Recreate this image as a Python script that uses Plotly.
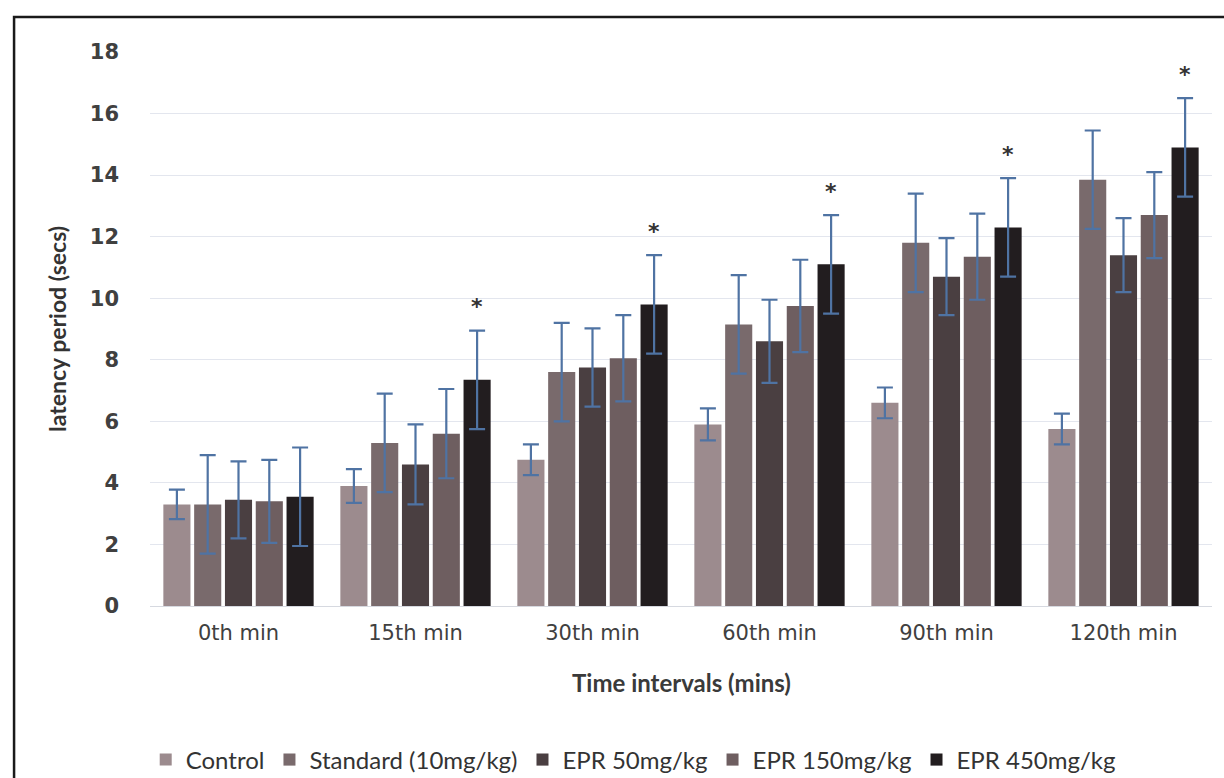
import plotly.graph_objects as go

categories = ["0th min", "15th min", "30th min", "60th min", "90th min", "120th min"]
series_names = ["Control", "Standard (10mg/kg)", "EPR 50mg/kg", "EPR 150mg/kg", "EPR 450mg/kg"]

control = [3.3, 3.9, 4.75, 5.9, 6.6, 5.75]
standard = [3.3, 5.3, 7.6, 9.15, 11.8, 13.85]
epr50 = [3.45, 4.6, 7.75, 8.6, 10.7, 11.4]
epr150 = [3.4, 5.6, 8.05, 9.75, 11.35, 12.7]
epr450 = [3.55, 7.35, 9.8, 11.1, 12.3, 14.9]

err_control = [0.48, 0.55, 0.5, 0.52, 0.5, 0.5]
err_standard = [1.6, 1.6, 1.6, 1.6, 1.6, 1.6]
err_epr50 = [1.25, 1.3, 1.27, 1.35, 1.25, 1.2]
err_epr150 = [1.35, 1.45, 1.4, 1.5, 1.4, 1.4]
err_epr450 = [1.6, 1.6, 1.6, 1.6, 1.6, 1.6]

significant_450 = [False, True, True, True, True, True]

colors = ["#9c8b8e", "#796a6c", "#4a3f41", "#6e5e60", "#221d1f"]
values = [control, standard, epr50, epr150, epr450]
errors = [err_control, err_standard, err_epr50, err_epr150, err_epr450]

fig = go.Figure()
for name, vals, errs, col in zip(series_names, values, errors, colors):
    fig.add_trace(go.Bar(
        name=name, x=categories, y=vals, marker_color=col,
        marker_line_width=0,
        error_y=dict(type="data", array=errs, visible=True,
                     color="#4f73a3", thickness=2.2, width=8),
    ))

bargap = 0.13
ngroups = len(series_names)
slot = (1 - bargap) / ngroups
offset_last = -(1 - bargap) / 2 + slot * (ngroups - 0.5)
annotations = []
for i, sig in enumerate(significant_450):
    if sig:
        annotations.append(dict(
            x=i + offset_last, y=epr450[i] + err_epr450[i] + 0.3,
            xref="x", yref="y", text="<b>*</b>", showarrow=False,
            font=dict(size=22, color="#333333", family="DejaVu Sans"),
            yanchor="bottom"))

annotations.append(dict(
    x=0.5, y=-0.138, xref="paper", yref="paper",
    text="<b>Time intervals (mins)</b>", showarrow=False,
    font=dict(size=24, color="#3a3a3a", family="Lato", weight="bold"),
    yanchor="middle"))

fig.update_layout(
    width=1224, height=778,
    barmode="group", bargap=bargap, bargroupgap=0.12,
    plot_bgcolor="white", paper_bgcolor="white",
    margin=dict(l=150, r=12, t=52, b=172, autoexpand=False),
    font=dict(family="DejaVu Sans", color="#404040"),
    annotations=annotations,
    legend=dict(orientation="h", x=0.455, xanchor="center", y=-0.278, yanchor="middle",
                font=dict(size=24, family="Lato", color="#333333"),
                itemwidth=30, tracegroupgap=0),
    shapes=[dict(type="rect", xref="paper", yref="paper",
                 x0=-0.128, x1=1.05, y0=-0.4, y1=1.063,
                 line=dict(color="#1a1a1a", width=2.5), fillcolor="rgba(0,0,0,0)")],
)
fig.update_yaxes(
    range=[0, 18], dtick=2, showgrid=True, gridcolor="#e3e6ee", gridwidth=1,
    zeroline=True, zerolinecolor="#d6d9e0", zerolinewidth=1,
    tickfont=dict(size=21, color="#404040", family="DejaVu Sans", weight="bold"),
    ticklabelstandoff=30,
    title=dict(text="<b>latency period (secs)</b>", standoff=16,
               font=dict(size=23, color="#333333", family="Lato", weight="bold")),
)
fig.update_xaxes(
    showgrid=False, showline=False,
    tickfont=dict(size=21, color="#404040", family="DejaVu Sans"),
    ticklabelstandoff=12,
)

fig.write_html("out.html")
